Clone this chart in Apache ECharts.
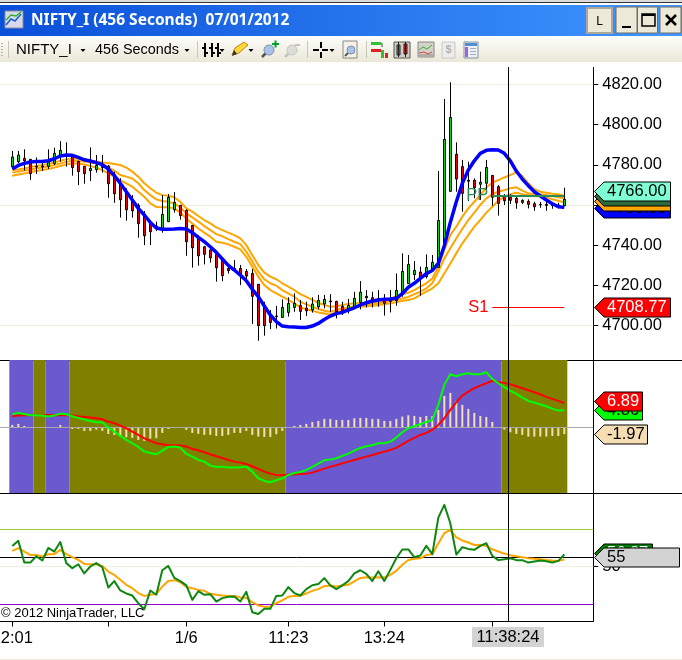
<!DOCTYPE html>
<html><head><meta charset="utf-8">
<style>html,body{margin:0;padding:0;background:#fff}#c{width:682px;height:660px}</style>
<script src="https://cdn.jsdelivr.net/npm/echarts@6/dist/echarts.min.js"></script>
</head><body><div id="c"></div>
<script>
const opens=[4779.1,4781.5,4783.2,4782.7,4779.2,4778.9,4779.2,4780.7,4784,4784.9,4784,4781.7,4779.2,4777.1,4777.6,4778.6,4779.4,4775.2,4770.3,4766.3,4762.3,4759.8,4755.3,4750.5,4749.5,4748.3,4751.7,4757.6,4759.8,4757.3,4749.8,4743.9,4739.2,4737.6,4735.4,4732.4,4728.4,4728.4,4728.4,4726.9,4725.9,4720.5,4709.8,4705,4704.7,4704,4706.5,4709,4710,4708.7,4707.7,4709.3,4710.7,4712.2,4712,4709.5,4708.2,4709.5,4711.5,4714.5,4713.8,4713.5,4712.3,4713.3,4712.3,4716,4720.8,4725.3,4726.6,4724.3,4727.9,4728.9,4740.9,4766.8,4785.2,4779.1,4772.3,4772.3,4770.3,4770.8,4774.7,4769.1,4764.6,4763.8,4763.3,4762.3,4761.8,4760.6,4760.3,4760.3,4760,4760,4759.6];
const closes=[4783.9,4784.9,4782,4775.6,4778.9,4779.4,4781.5,4785.7,4787.2,4784.4,4778.6,4776.6,4775.6,4778.2,4779.7,4779.4,4770.6,4765.6,4762.6,4757.6,4757.1,4750.7,4744.7,4746.7,4748.2,4755.3,4763.8,4761.3,4754.7,4741.7,4738.7,4734.7,4735.4,4733.7,4728.8,4724.8,4727.3,4727.9,4725.1,4724.6,4714.5,4699.9,4699.9,4701.5,4704.4,4709,4711,4711,4707,4707.3,4710.7,4712.5,4713,4711.8,4706.8,4707.3,4710,4713.5,4716.6,4713.8,4711.8,4713,4711,4712,4717.5,4726.9,4730.4,4727.4,4723.4,4728.9,4731.4,4752.3,4792.7,4803.6,4772.9,4765.8,4771.8,4768.6,4771.3,4778.7,4763.8,4760.8,4762.1,4762.3,4761.1,4761.3,4760.3,4759.1,4760.1,4759.8,4759.8,4759.8,4762.8];
const lows=[4778.2,4780.7,4777.1,4772.4,4775.4,4776.9,4777.9,4779.9,4781.5,4779.1,4774.6,4769.9,4770.6,4771.9,4776.1,4776.1,4763.6,4761.1,4753.7,4752.2,4753.7,4743.7,4740,4740,4747,4746.2,4751.7,4756.2,4752.7,4734.7,4728.8,4729.8,4730.4,4731.3,4721.8,4722.1,4725.8,4726.8,4720.1,4721.8,4700.7,4692.4,4694.9,4698.2,4698.5,4704,4704.4,4706.8,4702.7,4704.7,4706.4,4708,4708.5,4706.8,4703.5,4705.2,4706,4709,4708,4709,4709,4709.3,4704.9,4706.5,4709.8,4714.3,4720.8,4722.6,4714.8,4723.4,4726.8,4728.9,4740.9,4766.6,4766.6,4756.6,4762,4763.3,4762.5,4765.8,4759.6,4754.7,4760,4760.5,4758.1,4760.5,4758.3,4757.1,4758.6,4757.1,4758.1,4758.3,4759.5];
const highs=[4786.9,4786.9,4787.7,4782.9,4783.7,4781.1,4787.7,4788.5,4791.8,4791.2,4784.9,4782,4779.4,4788.7,4784.9,4784.9,4779.9,4776.6,4773.3,4768.3,4764.9,4760.8,4757,4752.2,4751.7,4764.9,4765.4,4766.4,4760,4757.8,4750,4745,4739.6,4737.9,4735.9,4732.6,4730.1,4732.6,4730.1,4728.1,4728.1,4720.6,4711.8,4707.7,4709.7,4713,4714,4716,4712.7,4711.8,4714,4715.2,4715.2,4715.6,4712.3,4711.8,4713.2,4716.8,4722.1,4717.6,4716.8,4717.6,4715.6,4717.6,4725.9,4735.9,4735.1,4732.1,4729.3,4735.4,4735.1,4776.9,4812.8,4821.1,4791.2,4782.4,4781.5,4773.2,4776.6,4782.4,4774.9,4769.9,4765.4,4765.4,4764.5,4762.8,4762.8,4761.6,4761.5,4761.6,4761.1,4761.1,4768.6];
const blueLine=[4777.9,4779.7,4780.7,4781.4,4781.6,4781.6,4782,4783,4784.4,4784.9,4784.7,4783.7,4782.5,4781.9,4781.1,4780.1,4777.9,4774.6,4770.8,4766.6,4762.5,4758.3,4755,4751.3,4748.5,4747.9,4747.9,4748,4748.3,4748,4746.2,4743.9,4741.7,4739.2,4736.4,4733.1,4729.9,4727.6,4725.1,4722.3,4718,4714.3,4709.7,4705.2,4701.9,4699.7,4699.4,4699.2,4699,4699,4699.7,4701,4703,4704.7,4705.9,4706.5,4707.7,4708.8,4710.2,4711.3,4712.2,4712.7,4713,4713.2,4713.5,4715.8,4719,4721,4723.4,4725.8,4727.4,4730.9,4739.7,4751.3,4761.6,4770.8,4777.4,4782,4785.7,4787.2,4787.5,4787.4,4785.7,4782,4776.9,4772.9,4769.6,4766.6,4764.5,4762.5,4760.6,4759.1,4758.8];
const orangeUpper=[4777.4,4777.7,4778.2,4778.9,4779.4,4779.9,4780.4,4781.2,4782,4782.7,4783.2,4783,4782.7,4782,4781.6,4781.2,4780.9,4780.4,4779.9,4778.6,4776.6,4774.1,4770.8,4768.3,4766.1,4764.9,4764.6,4763.8,4761.6,4758.3,4756.7,4754.5,4752.5,4750.8,4748.8,4747.5,4746.2,4745,4743.4,4740,4735,4730.1,4726.3,4724.3,4723,4721,4719.3,4717.6,4715.6,4714.2,4712.7,4711.3,4710.2,4709.3,4709.6,4710.2,4710.7,4711,4711,4711,4711,4711.3,4711.8,4713,4714.7,4715.6,4716.3,4717.6,4719.3,4721,4723.4,4729.3,4737.6,4745,4749.2,4754.2,4758.3,4761.6,4764.9,4768.8,4771.1,4772.4,4773.7,4774.9,4776.2,4774.4,4770.8,4767.8,4766.6,4766.1,4765.6,4765.3,4764.6];
const orangeMid=[4776.1,4776.6,4777.1,4777.7,4778.2,4778.7,4779.2,4779.9,4780.7,4781.4,4782,4781.9,4781.6,4781.1,4780.7,4780.1,4778.7,4777.1,4774.9,4774.1,4773.2,4770.8,4767.4,4764.9,4762.8,4762,4761.6,4760.8,4758.8,4755.8,4753.8,4751.7,4749.5,4747.5,4745.5,4744.4,4743,4741.7,4740.5,4736.7,4731.8,4726.8,4723,4721,4719.8,4717.6,4716,4714.3,4711.8,4710.5,4709.3,4708.2,4707.3,4706.8,4707.7,4708.5,4709,4709.6,4710,4710.3,4710.7,4711,4711.3,4712.2,4712.7,4713.5,4714.2,4715.6,4716.8,4718.5,4721,4726.8,4733.4,4738.4,4743.4,4748,4752.5,4756.2,4760,4763.3,4765.4,4766.6,4767.4,4768.3,4768.8,4767.1,4765.8,4765.4,4765.4,4764.9,4764.4,4763.8,4763.3];
const orangeLow=[4774.6,4775.2,4775.7,4776.4,4776.9,4777.4,4777.9,4778.6,4779.4,4780.1,4780.7,4780.6,4780.2,4779.4,4778.6,4777.4,4775.7,4774.1,4772.4,4770.8,4769.1,4766.6,4764.1,4760.8,4759,4758.8,4758.8,4758.3,4756.2,4753.3,4750.8,4748.3,4746.2,4744.2,4741.7,4741.2,4740.4,4739.2,4737.9,4734.2,4729.3,4724.3,4720.1,4717.6,4716,4714.3,4712.7,4711,4709,4708,4707.3,4706.5,4706,4705.5,4706.5,4707.3,4708.2,4709,4709.3,4709.6,4709.8,4710.2,4710.5,4711,4711.5,4712.3,4712.7,4713.5,4715.2,4716.8,4718.5,4721,4725.9,4730.9,4735.9,4740.9,4745,4749.2,4752.5,4756.2,4759.1,4762.1,4764.1,4765.4,4766.1,4765.4,4764.8,4764.4,4764.4,4763.8,4762.8,4762.1,4761.3];
const histValues=[0.67,0.95,0.38,0,0,0.1,0,0,0.67,0,-0.48,-0.48,-1.05,-1.05,-0.67,-1.05,-1.9,-2.2,-2.67,-2.86,-3.05,-3.62,-3.9,-3.24,-3.14,-1.62,-0.48,-0.19,-0.1,-0.76,-1.62,-1.9,-2.2,-2.2,-2.48,-2.48,-2.2,-1.62,-1.62,-1.05,-2.2,-2.67,-2.76,-2.76,-2,-1.05,0,0.38,0.67,0.95,1.52,1.81,2.38,2.38,2.1,2.1,2.1,2.57,2.67,2.67,2.38,2.38,1.81,1.81,2.38,3.05,3.43,3.24,2.95,3.24,3.14,4.95,8.95,9.81,7.52,6.38,5.24,4.1,3.24,2.95,1.52,0,-0.67,-1.43,-1.9,-2.19,-2.67,-2.67,-2.67,-2.67,-2.48,-2.48,-1.97];
const macdRed=[3.14,3.33,3.43,3.43,3.52,3.52,3.52,3.43,3.43,3.52,3.33,3.14,2.95,2.76,2.57,2.29,1.62,1.14,0.48,-0.29,-1.24,-2.19,-3.14,-3.9,-4.57,-4.86,-5.14,-5.14,-5.24,-5.52,-6.19,-6.57,-7.14,-7.71,-8.29,-8.76,-9.33,-9.81,-10.1,-10.48,-11.14,-11.9,-12.67,-13.24,-13.62,-13.71,-13.52,-13.43,-13.33,-13.24,-12.95,-12.38,-11.81,-11.24,-10.86,-10.29,-9.81,-9.33,-8.86,-8.38,-7.9,-7.43,-6.95,-6.48,-5.9,-4.86,-3.9,-3.05,-2.19,-1.62,-0.76,0.67,2.57,4.95,7.14,9.05,10.19,11.14,11.9,12.57,13.24,12.86,12.67,12.29,11.71,11.14,10.57,10,9.43,8.67,8.1,7.52,6.89];
const macdGreen=[3.71,4.1,3.81,3.43,3.43,3.33,3.05,3.33,3.9,3.71,3.14,2.67,2.19,1.81,1.43,1.43,-0.1,-1.24,-2.48,-3.62,-4.57,-5.62,-6.95,-7.33,-7.71,-6.67,-5.62,-5.52,-5.81,-7.62,-8.38,-9.33,-9.81,-10.95,-11.33,-11.24,-11.52,-11.52,-11.43,-11.24,-12.67,-14.57,-15.33,-15.71,-15.14,-14.57,-13.62,-13.05,-12.76,-12.19,-11.33,-10.38,-9.43,-9.24,-8.86,-8.19,-7.52,-6.67,-5.9,-5.43,-5.14,-4.57,-4.57,-4.1,-2.95,-1.43,-0.29,0.29,0.86,1.52,2.1,6.38,12.1,15.14,14.57,15.14,15.43,15.14,15.14,15.71,13.81,12.57,11.43,10.38,9.52,8.48,7.52,7.05,6.48,6,5.33,4.76,4.86];
const rsiGreen=[61.1,63.8,52.2,52.2,55.6,53.3,60,58.1,63.2,51.9,49.2,51.3,46.4,50.1,51.9,49.7,38.9,42.3,37.3,35.7,34.6,30.5,27.3,37.3,35,48.1,50.4,44,42.3,40,32.3,36.9,35,35.3,31.4,33.2,33.9,34.1,31.4,36.6,25.7,24.7,27.5,27.5,34.4,34.6,39.1,35.9,34.6,38,40.1,40.7,43.9,40,38,40,42.3,46.4,48.1,46.2,42.3,47.6,42.4,48.3,54.5,59.2,59.2,55.1,56,61.1,56.7,76.2,83,73.2,56.5,60.4,59.5,59,61.1,62.5,55.8,53.5,54,54.5,53.5,53.5,52.2,52.8,53.3,52.9,52.2,53.1,56.5];
const rsiOrange=[58.4,59.9,58.1,56.3,56.3,55.4,56.7,56.7,59,56.7,55.1,53.6,51.5,51.3,51.3,50.4,47.4,45.6,43,40.3,38.5,35.9,34.4,35,35.5,39.4,42.4,42.8,41.7,39.1,38.5,37.6,37.1,35.5,35,34.6,34.3,34.3,33.6,33.4,31.1,29.3,28.6,28.6,30.5,32,33.9,34.3,34.4,35.7,37.1,38,39.6,40,39.4,40,40.3,42.1,44,44.4,44.2,44.4,44.2,45.6,47.8,51,53.6,54.2,54.5,56.3,56.7,62.4,67.9,69.6,65.7,64,62.9,61.6,61.6,61.1,59.3,58.1,57,56.1,55.6,55.1,54.5,54.2,54,53.6,53.3,53.1,53.8];
const zoneEdges=[-0.5,3.5,5.5,9.5,45.5,81.5,92.5];
const zoneColors=['#6a5acd','#808000','#6a5acd','#808000','#6a5acd','#808000'];
const priceTicks=[4700,4720,4740,4760,4780,4800,4820];
const priceGrid=[4700,4760,4820];
const timeTickIdx=[0,16,29,46,62,80];
const timeLabelIdx=[0,29,46,62];
const timeLabels=['12:01','1/6','11:23','13:24'];
const rsiLevels=[[70,'#9acd32'],[55,'#000000'],[50,'#efefdf'],[30,'#9400d3']];
const crossIdx=82.67;
const pivots=[['PP',4764.8,80,92,'#2e8b57'],['S1',4709,80,92,'#ff0000']];
const priceTags=[[4758.5,'4758.80','#0000ff','#000',670],[4762,'4763.30','#ffa500','#000',670],[4764.6,'4764.80','#2e6b3a','#000',670],[4766.8,'4766.00','#7fffd4','#000',670],[4709.4,'4708.77','#ff0000','#fff',670]];
const macdTags=[[4.9,'4.86','#00ff00','#000',642],[7.4,'6.89','#ff0000','#fff',642],[-1.97,'-1.97','#f5deb3','#000',647]];
const rsiTags=[[57.2,'56.27','#008000','#fff',652],[55,'55','#d3d3d3','#000',679]];

const FONT='"Liberation Sans",Arial,sans-serif', XMIN=-2.05, XMAX=96.83;
const xs=a=>a.map((v,i)=>[i,v]);
const line=(name,grid,data,color,width,z)=>({name,type:'line',xAxisIndex:grid,yAxisIndex:grid,data:xs(data),showSymbol:false,symbol:'none',silent:true,animation:false,z,lineStyle:{color,width,join:'round'}});
const marks=(grid,lines,z)=>({type:'line',xAxisIndex:grid,yAxisIndex:grid,data:[],silent:true,animation:false,z,
  markLine:{z,silent:true,animation:false,symbol:'none',precision:6,data:lines}});
const hl=(y,color,width)=>({yAxis:y,lineStyle:{color,width:width||1,type:'solid'},label:{show:false}});
const vl=(x)=>({xAxis:x,lineStyle:{color:'#000',width:1,type:'solid'},label:{show:false}});
const tagSeries=(grid,tags)=>({type:'custom',xAxisIndex:grid,yAxisIndex:grid,silent:true,animation:false,clip:false,z:20,
  data:tags.map((t,i)=>[0,t[0],i]),encode:{x:0,y:1},
  renderItem(p,api){
    const t=tags[p.dataIndex],y=Math.round(api.coord([0,api.value(1)])[1])+.5,h=9.5,L=594.5,B=604,R=t[4]+.5;
    return {type:'group',children:[
      {type:'polygon',shape:{points:[[L,y],[B,y-h],[R,y-h],[R,y+h],[B,y+h]]},style:{fill:t[2],stroke:'#000',lineWidth:1}},
      {type:'text',style:{x:607,y:y,text:t[1],fill:t[3],font:'16.5px '+FONT,align:'left',verticalAlign:'middle'}}
    ]};
  }});

// window chrome
const G=[];
const R=(x,y,w,h,fill,stroke,lw)=>G.push({type:'rect',z:1,silent:true,shape:{x,y,width:w,height:h},style:{fill:fill||'none',stroke:stroke||null,lineWidth:lw||1}});
const P=(pts,stroke,lw)=>G.push({type:'polyline',z:2,silent:true,shape:{points:pts},style:{stroke,lineWidth:lw||1,fill:null}});
const F=(pts,fill,stroke)=>G.push({type:'polygon',z:2,silent:true,shape:{points:pts},style:{fill,stroke:stroke||null}});
const C=(x,y,r,fill,stroke)=>G.push({type:'circle',z:2,silent:true,shape:{cx:x,cy:y,r},style:{fill,stroke:stroke||null}});
const T=(x,y,text,font,fill,align,z)=>G.push({type:'text',z:z||3,silent:true,style:{x,y,text,font,fill:fill||'#000',align:align||'left',verticalAlign:'middle'}});
const grad=(x,y,x2,y2,a,b)=>({type:'linear',x,y,x2,y2,global:false,colorStops:[{offset:0,color:a},{offset:1,color:b}]});
R(0,0,682,2,'#dcdcdc');R(0,2,682,1,'#333333');R(0,3,682,2,'#ffffff');
R(0,5,682,31,grad(0,0,1,0,'#0a4fd8','#3f97ff'));
R(5,11,18,17,'#d8d8e8','#8a8aa0');P([[6,25],[11,19],[15,21],[21,14]],'#2060d0',1.5);P([[6,20],[11,15],[16,16],[21,12]],'#30b030',1.5);
T(31,21,'NIFTY_I (456 Seconds)  07/01/2012','bold 15.5px "Noto Sans",sans-serif','#fff');
R(587,8,25,25,'#ece9d8','#aca899',2);T(599.5,21,'L','13px "Noto Sans",sans-serif','#000','center');
[[616,21],[637.5,20],[660,21]].forEach(b=>{R(b[0],7,b[1],26,'#ece9d8','#716f64',1);});
R(622,26,9,2,'#000');R(642,14,13,12,null,'#000',1.5);R(642,14,13,2,'#000');
P([[666,15],[676,25]],'#000',2.5);P([[676,15],[666,25]],'#000',2.5);
R(0,36,682,26,grad(0,0,0,1,'#fdfdfa','#ebe8d8'));
[43,46,49,52,55].forEach(y=>R(1,y,2,1,'#b8b4a4'));
[8,197,307,366].forEach(x=>R(x,41,1,17,'#c8c5b5'));
T(16,50,'NIFTY_I','15px '+FONT,'#000');
T(95,50,'456 Seconds','14.4px '+FONT,'#000');
const arrow=x=>F([[x-2.5,49],[x+2.5,49],[x,52]],'#000');
[83,187,222,251,332].forEach(arrow);
[204,211,217].forEach(x=>{R(x,43,2,14,'#000');R(x-2,47,2,2,'#000');R(x+2,52,2,2,'#000');});
F([[232,55],[235,48],[244,42],[248,45],[239,53]],'#ffd838','#c08020');F([[232,56],[234,50],[237,54]],'#303030');
P([[262,57],[266,53]],'#555',2.5);C(269,50,5,'#a8c4e8','#8090a8');R(272,43,7,2,'#00a030');R(274.5,40.5,2,7,'#00a030');
P([[285,57],[289,53]],'#c4c4c0',2.5);C(292,50,5,'#dcdcd8','#c4c4c0');R(295,44,5,2,'#c4c4c0');
R(313,49,6,2,'#000');R(322,49,6,2,'#000');R(320,42,2,6,'#000');R(320,52,2,6,'#000');
R(343,41,14,17,'#f4f2e8','#888');P([[345,56],[348,53]],'#555',2);C(351,50,4,'#a8c4e8','#8090a8');
R(371,42,10,3,'#30c030');R(371,49,10,3,'#e02020');R(381,43,2,4,'#999');R(381,50,2,4,'#999');R(381,50,3,8,'#30c030');R(385,53,3,5,'#e02020');
R(394,42,16,16,'#d0cec4','#555');R(397,45,3,10,'#20d020','#222');R(404,44,3,10,'#e02020','#222');P([[398.5,42],[398.5,57]],'#222');P([[405.5,42],[405.5,57]],'#222');
R(418,42,16,15,'#d4d2c8','#888');P([[419,50],[423,47],[427,49],[432,45]],'#30b030');P([[419,53],[424,52],[428,54],[432,52]],'#d04040');R(418,54,16,3,'#b0aea4');
R(442,42,13,16,'#ececec','#c8c8c8');T(448.5,50,'$','bold 11px '+FONT,'#b0b0b0','center');
R(464,42,14,16,'#f0f0f4','#8090a8');R(465,43,12,3,'#5090d0');R(465,47,3,10,'#a060e0');R(470,48,6,1,'#a0b0c0');R(470,51,6,1,'#a0b0c0');R(470,54,6,1,'#a0b0c0');
R(0,360,682,1,'#000');R(0,493,682,1,'#000');R(593,67,1,554.5,'#000');
R(0,659,682,1,'#ece9d8');
R(472,627,72,20,'#d3d3d3');
T(508,637,'11:38:24','16.5px '+FONT,'#000','center',4);
T(1,613,'© 2012 NinjaTrader, LLC','13px '+FONT,'#000','left',40);

const xAxis=(grid,show)=>({type:'value',gridIndex:grid,min:XMIN,max:XMAX,show:true,splitLine:{show:false},position:'bottom',
  axisLine:{show,onZero:false,lineStyle:{color:'#000',width:1}},
  axisTick:{show,length:5,lineStyle:{color:'#000'},customValues:timeTickIdx},
  axisLabel:{show,color:'#000',fontSize:16.5,fontFamily:FONT,margin:8,customValues:timeLabelIdx,hideOverlap:false,
    formatter:v=>timeLabels[timeLabelIdx.indexOf(v)]||''}});
const yAxis=(grid,min,max,ticks,fmt)=>({type:'value',gridIndex:grid,min,max,position:'right',splitLine:{show:false},
  axisLine:{show:false,onZero:false},
  axisTick:{show:!!ticks,length:5,lineStyle:{color:'#000'},customValues:ticks||[]},
  axisLabel:{show:!!ticks,color:'#000',fontSize:16.5,fontFamily:FONT,margin:9,customValues:ticks||[],formatter:fmt,hideOverlap:false}});

const option={animation:false,backgroundColor:'#fff',textStyle:{fontFamily:FONT},
 grid:[{left:0,top:67,width:593.3,height:293,outerBoundsMode:'none'},{left:0,top:360,width:593.3,height:133,outerBoundsMode:'none'},{left:0,top:493,width:593.3,height:128.5,outerBoundsMode:'none'}],
 xAxis:[xAxis(0,false),xAxis(1,false),xAxis(2,true)],
 yAxis:[yAxis(0,4682.8,4828.7,priceTicks,v=>v.toFixed(2)),yAxis(1,-18.77,19.2,null),yAxis(2,20.72,89.36,[50],v=>String(v))],
 graphic:{elements:G},
 series:[
  marks(0,priceGrid.map(v=>hl(v,'#efefdf')),1),
  line('orangeUpper',0,orangeUpper,'#ffa500',2,3),
  line('orangeMid',0,orangeMid,'#ffa500',2,3),
  line('orangeLow',0,orangeLow,'#ffa500',2,3),
  {name:'candles',type:'candlestick',xAxisIndex:0,yAxisIndex:0,silent:true,animation:false,z:4,barWidth:3,
   data:opens.map((o,i)=>[i,o,closes[i],lows[i],highs[i]]),encode:{x:0,y:[1,2,3,4]},
   itemStyle:{color:'#00e000',color0:'#ee0000',borderColor:'#000',borderColor0:'#000',borderColorDoji:'#000',borderWidth:1}},
  line('blue',0,blueLine,'#0000ff',3.5,5),
  {type:'line',xAxisIndex:0,yAxisIndex:0,data:[],silent:true,animation:false,z:6,
   markLine:{z:6,silent:true,animation:false,symbol:'none',precision:6,
    data:pivots.map(p=>[{coord:[p[2],p[1]],lineStyle:{color:p[4],width:p[0]==='PP'?2:1,type:'solid'},
      label:{show:true,position:'start',formatter:p[0],color:p[4],fontSize:16.5,fontFamily:FONT,distance:4}},{coord:[p[3],p[1]]}])}},
  {type:'line',xAxisIndex:1,yAxisIndex:1,data:[],silent:true,animation:false,z:1,
   markArea:{silent:true,animation:false,data:zoneColors.map((c,i)=>[{xAxis:zoneEdges[i],itemStyle:{color:c,opacity:1}},{xAxis:zoneEdges[i+1]}])}},
  {name:'hist',type:'bar',xAxisIndex:1,yAxisIndex:1,data:xs(histValues),barWidth:2,silent:true,animation:false,z:3,itemStyle:{color:'#f5deb3'}},
  marks(1,[hl(0,'#a9a9a9',1)],4),
  line('macdRed',1,macdRed,'#ff0000',2,5),
  line('macdGreen',1,macdGreen,'#00ff00',2,6),
  marks(2,rsiLevels.map(l=>hl(l[0],l[1])),2),
  line('rsiOrange',2,rsiOrange,'#ffa500',2,3),
  line('rsiGreen',2,rsiGreen,'#0f860f',2,4),
  marks(0,[vl(crossIdx)],10),marks(1,[vl(crossIdx)],10),marks(2,[vl(crossIdx)],10),
  tagSeries(0,priceTags),tagSeries(1,macdTags),tagSeries(2,rsiTags)
 ]};
const chart=echarts.init(document.getElementById('c'),null,{renderer:'canvas',width:682,height:660});
chart.setOption(option);
</script></body></html>
